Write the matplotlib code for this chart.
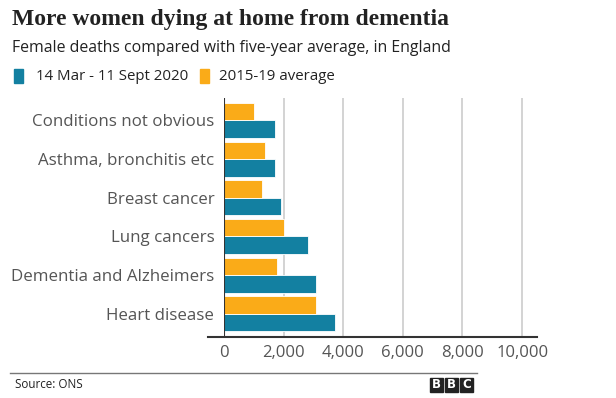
import matplotlib.pyplot as plt
import numpy as np
from matplotlib.lines import Line2D
from matplotlib.patches import Rectangle

categories = ['Heart disease', 'Dementia and Alzheimers', 'Lung cancers',
              'Breast cancer', 'Asthma, bronchitis etc', 'Conditions not obvious']
deaths_2020 = [3720, 3100, 2810, 1900, 1700, 1700]
average_2015_19 = [3080, 1780, 2010, 1280, 1370, 1020]
series_labels = ['14 Mar - 11 Sept 2020', '2015-19 average']
xticks = [0, 2000, 4000, 6000, 8000, 10000]

BLUE = '#1380A1'
ORANGE = '#FAAB18'
W, H = 616, 398


def main():
    fig = plt.figure(figsize=(W / 100, H / 100), dpi=100)
    sans = 'Open Sans'

    ax = fig.add_axes([224 / W, (H - 337) / H, (537 - 224) / W, (337 - 98) / H])
    y = np.arange(len(categories))
    bh = 0.45
    ax.barh(y - bh / 2, deaths_2020, height=bh, color=BLUE, edgecolor='white', linewidth=0.6, zorder=3)
    ax.barh(y + bh / 2, average_2015_19, height=bh, color=ORANGE, edgecolor='white', linewidth=0.6, zorder=3)

    ax.set_xlim(0, 10500)
    ax.set_ylim(-0.6, 5.58)
    ax.set_xticks(xticks)
    ax.set_xticklabels([f'{v:,}' for v in xticks], fontfamily=sans, fontsize=12, color='#555555')
    ax.set_yticks(y)
    ax.set_yticklabels(categories, fontfamily=sans, fontsize=12.2, color='#555555')
    ax.tick_params(axis='both', length=0, pad=7)
    ax.tick_params(axis='x', pad=6)
    for s in ax.spines.values():
        s.set_visible(False)
    for t in xticks[1:]:
        ax.axvline(t, color='#cccccc', linewidth=1.2, zorder=1)
    ax.axvline(0, color='#333333', linewidth=1.5, zorder=4)
    ax.add_line(Line2D([-0.05, 1.0], [0, 0], transform=ax.transAxes, color='#333333',
                       linewidth=1.5, clip_on=False, zorder=4))

    fig.text(12 / W, 1 - 19 / H, 'More women dying at home from dementia', fontfamily='Liberation Serif',
             fontweight='bold', fontsize=17, color='#222222', va='center')
    fig.text(12 / W, 1 - 48 / H, 'Female deaths compared with five-year average, in England',
             fontfamily=sans, fontsize=11.4, color='#222222', va='center')

    ly = 1 - 76 / H
    fig.patches.append(Rectangle((14 / W, ly - 7 / H), 9 / W, 14 / H, transform=fig.transFigure,
                                 color=BLUE))
    fig.text(36 / W, ly, series_labels[0], fontfamily=sans, fontsize=10.8, color='#222222', va='center')
    fig.patches.append(Rectangle((200 / W, ly - 7 / H), 9 / W, 14 / H, transform=fig.transFigure,
                                 color=ORANGE))
    fig.text(219 / W, ly, series_labels[1], fontfamily=sans, fontsize=10.8, color='#222222', va='center')

    fig.add_artist(Line2D([10 / W, 477 / W], [1 - 373 / H, 1 - 373 / H], transform=fig.transFigure,
                          color='#777777', linewidth=1))
    fig.text(15 / W, 1 - 385 / H, 'Source: ONS', fontfamily=sans, fontsize=8.4, color='#222222', va='center')
    for i, letter in enumerate('BBC'):
        x0 = 430 + i * 15
        fig.patches.append(Rectangle((x0 / W, 1 - 392 / H), 13 / W, 14 / H, transform=fig.transFigure,
                                     color='#222222'))
        fig.text((x0 + 6.5) / W, 1 - 385 / H, letter, fontfamily='DejaVu Sans', fontweight='bold',
                 fontsize=8.5, color='white', ha='center', va='center')

    fig.savefig('out.png', dpi=100, facecolor='white')


if __name__ == '__main__':
    main()
